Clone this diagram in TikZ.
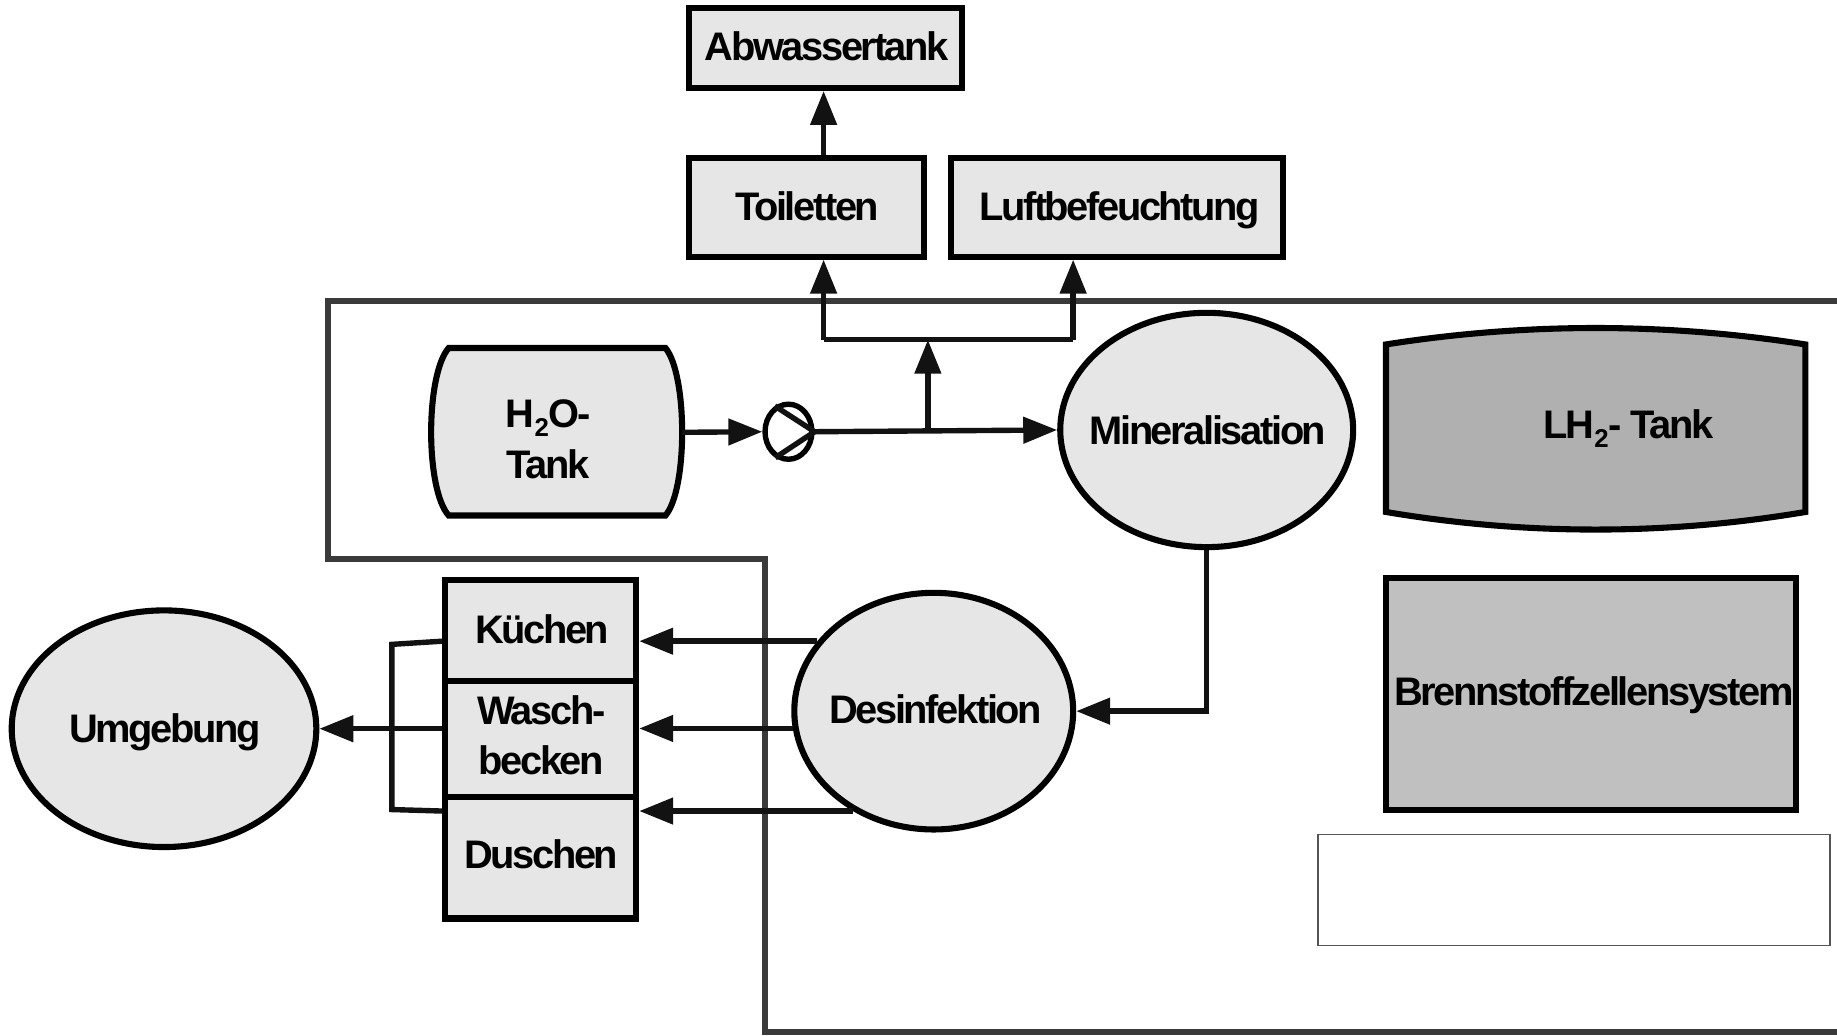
\documentclass[tikz,border=0pt]{standalone}
\usepackage{fontspec}
\newfontfamily\lbfam[LetterSpace=-6]{Liberation Sans}
\usetikzlibrary{shapes.geometric,arrows.meta}
\definecolor{boxgrey}{HTML}{E6E6E6}
\definecolor{tankgrey}{HTML}{B0B0B0}
\definecolor{fcgrey}{HTML}{C0C0C0}
\definecolor{bordergrey}{HTML}{3A3A3A}
\definecolor{linegrey}{HTML}{555555}
\newcommand{\subtwo}{\raisebox{-0.42ex}{\fontsize{11}{11}\selectfont 2}}
\begin{document}
\begin{tikzpicture}[x=0.5pt,y=-0.5pt,
  conn/.style={line width=2.3pt,draw=black!93},
  arr/.style={conn,-{Triangle[length=14.5pt,width=11pt]}},
  boxst/.style={draw=black,line width=2.6pt,fill=boxgrey,rectangle,inner sep=0pt},
  ellst/.style={draw=black,line width=2.6pt,fill=boxgrey,ellipse,inner sep=0pt},
  lbl/.style={font=\lbfam\bfseries\fontsize{17}{21.5}\selectfont,inner sep=0pt,align=center,anchor=base},
  bound/.style={draw=bordergrey,line width=2.5pt}]
\path[use as bounding box,fill=white] (0,0) rectangle (1568,884);

% system boundary
\draw[bound] (1568,257) -- (280,257) -- (280,477) -- (653,477) -- (653,881) -- (1568,881);

% boxes
\node[boxst,minimum width=116.5pt,minimum height=34pt] (abw) at (704.5,41) {};
\node[boxst,minimum width=100.5pt,minimum height=42pt] (toil) at (688.5,177) {};
\node[boxst,minimum width=141.5pt,minimum height=42pt] (luft) at (953.5,177) {};
\node[boxst,minimum width=81.5pt,minimum height=43pt] (kuech) at (461.5,538) {};
\node[boxst,minimum width=81.5pt,minimum height=49.5pt] (wasch) at (461.5,630.5) {};
\node[boxst,minimum width=81.5pt,minimum height=52pt] (dusch) at (461.5,732) {};
\node[boxst,fill=fcgrey,minimum width=175pt,minimum height=99pt] (bzs) at (1358,592) {};
\node[draw=linegrey,line width=0.5pt,fill=white,rectangle,inner sep=0pt,minimum width=218.5pt,minimum height=47.5pt] (empty) at (1343.5,759.5) {};

% ellipses
\node[ellst,minimum width=125pt,minimum height=100pt] (mineral) at (1030,367) {};
\node[ellst,minimum width=119pt,minimum height=101pt] (desinf) at (797,607) {};
\node[ellst,minimum width=130pt,minimum height=101pt] (umg) at (140,622) {};
\node[draw=black,line width=2.3pt,fill=white,ellipse,inner sep=0pt,minimum width=20pt,minimum height=23.5pt] (pump) at (673,368.5) {};
\draw[conn] (pump.118) -- (pump.east) -- (pump.243);

% H2O tank
\draw[draw=black,line width=2.6pt,fill=boxgrey]
  (383,297) -- (568,297) .. controls (587,320) and (587,418) .. (568,440)
  -- (383,440) .. controls (363,418) and (363,320) .. (383,297) -- cycle;
\coordinate (h2oR) at (582,369);

% LH2 tank
\draw[draw=black,line width=2.6pt,fill=tankgrey]
  (1183,294) .. controls (1302,275.3) and (1422,275.3) .. (1541,294)
  -- (1541,437) .. controls (1422,457) and (1302,457) .. (1183,437) -- cycle;

% labels
\node[lbl] (tabw) at (705.8,52) {Abwassertank};
\node[lbl] (ttoil) at (689,188) {Toiletten};
\node[lbl] (tluft) at (955.6,188) {Luftbefeuchtung};
\node[lbl] (tmin) at (1031,379) {Mineralisation};
\node[lbl] (th2o) at (468,408) {H\subtwo O-\\Tank};
\node[lbl] (tkue) at (462.7,549) {Küchen};
\node[lbl] (twas) at (462,661.5) {Wasch-\\becken};
\node[lbl] (tdus) at (462,741) {Duschen};
\node[lbl] (tumg) at (140.7,634) {Umgebung};
\node[lbl] (tdes) at (798.7,617.4) {Desinfektion};
\node[lbl] (tlh2) at (1390,374) {LH\subtwo- Tank};
\node[lbl] (tbzs) at (1360.6,602) {Brennstoffzellensystem};

% connectors
\coordinate (jP) at (792,368);
\coordinate (jT) at (703,290);
\coordinate (jL) at (916,290);
\draw[arr] (h2oR) -- (pump.west);
\draw[arr] (pump.east) -- (mineral.west);
\draw[arr] (jP) -- (jP |- jT);
\draw[conn] (jT) -- (jL);
\draw[arr] (jT) -- (jT |- toil.south);
\draw[arr] (jL) -- (jL |- luft.south);
\draw[arr] (toil.north -| jT) -- (abw.south -| jT);
\draw[arr] (mineral.south) |- (desinf.east);
\draw[arr] (desinf.149.87) -- (kuech.east |- desinf.149.87);
\draw[arr] (desinf.187) -- (wasch.east |- desinf.187);
\draw[arr] (desinf.231.8) -- (dusch.east |- desinf.231.8);
\draw[conn] (kuech.west |- desinf.149.87) -- (334.5,550) -- (334.5,691) -- (dusch.west |- desinf.231.8);
\draw[arr] (wasch.west |- umg.east) -- (umg.east);
\end{tikzpicture}
\end{document}
